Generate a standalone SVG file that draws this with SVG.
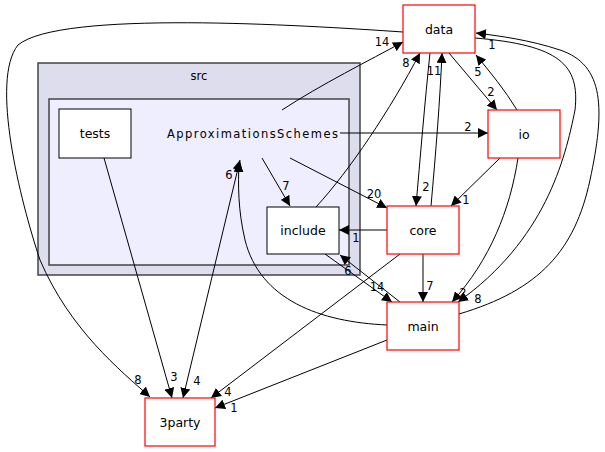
<svg xmlns="http://www.w3.org/2000/svg" width="605" height="452" viewBox="0 0 605 452">
<style>
text{font-family:"DejaVu Sans",sans-serif;font-size:11.5px;fill:#000}
.n text{text-anchor:middle;font-size:12.5px}
.red{fill:#fff;stroke:#ff0000;stroke-width:1.2}
.blk{fill:#fff;stroke:#000;stroke-width:1}
#edges path{fill:none;stroke:#000;stroke-width:1}
.lbl{text-anchor:middle}
</style>
<defs>
<marker id="a" viewBox="0 0 10 10" refX="10" refY="5" markerWidth="10" markerHeight="10" markerUnits="userSpaceOnUse" orient="auto"><path d="M0,0L10,5L0,10z" fill="#000"/></marker>
<marker id="s" viewBox="0 0 10 10" refX="0" refY="5" markerWidth="10" markerHeight="10" markerUnits="userSpaceOnUse" orient="auto"><path d="M10,0L0,5L10,10z" fill="#000"/></marker>
</defs>
<rect width="605" height="452" fill="#fff"/>
<g id="src"><rect x="38" y="63" width="322" height="212" fill="#ddddee" stroke="#444" stroke-width="1.5"/><text x="199" y="80" text-anchor="middle" font-size="12.5">src</text></g>
<g id="approx"><rect x="49" y="99" width="300" height="166" fill="#eeeeff" stroke="#444" stroke-width="1.5"/><text x="167" y="138" font-size="12.5" textLength="171" lengthAdjust="spacing">ApproximationsSchemes</text></g>
<g id="edges">
<path d="M282,110C320,85 370,60 403,42" marker-end="url(#a)"/>
<path d="M403,32C300,25 60,10 18,45C-10,80 20,200 40,260C70,330 120,370 150,397" marker-end="url(#a)"/>
<path d="M340,133L488,133" marker-end="url(#a)"/>
<path d="M262,158L290,206" marker-end="url(#a)"/>
<path d="M290,158L387,208" marker-end="url(#a)"/>
<path d="M316,207C350,170 390,110 420,53" marker-end="url(#a)"/>
<path d="M104,158L172,398" marker-end="url(#a)"/>
<path d="M240,160L183,398" marker-start="url(#s)" marker-end="url(#a)"/>
<path d="M430,53C425,100 420,160 416,206" marker-end="url(#a)"/>
<path d="M431,206C436,150 440,100 442,53" marker-end="url(#a)"/>
<path d="M449,53L497,110" marker-end="url(#a)"/>
<path d="M517,110C505,90 490,72 476,55" marker-end="url(#a)"/>
<path d="M500,158L451,206" marker-end="url(#a)"/>
<path d="M518,158C510,210 490,260 452,302" marker-end="url(#a)"/>
<path d="M387,230L339,230" marker-end="url(#a)"/>
<path d="M423,254L423,302" marker-end="url(#a)"/>
<path d="M400,254L211,398" marker-end="url(#a)"/>
<path d="M325,254L392,302" marker-end="url(#a)"/>
<path d="M400,302L340,255" marker-end="url(#a)"/>
<path d="M387,325C320,322 260,300 245,240C238,210 238,185 239,162" marker-end="url(#a)"/>
<path d="M475,38C560,45 580,65 575,110C565,160 545,240 458,302" marker-end="url(#a)"/>
<path d="M459,314C540,290 575,250 590,180C605,110 605,65 560,50C530,40 500,36 476,33" marker-end="url(#a)"/>
<path d="M387,340L215,408" marker-end="url(#a)"/>
<g class="lbl">
<text x="382" y="46">14</text><text x="138" y="384">8</text><text x="468" y="131">2</text>
<text x="286" y="190">7</text><text x="374" y="198">20</text><text x="406" y="67">8</text>
<text x="174" y="381">3</text><text x="229" y="179">6</text><text x="197" y="385">4</text>
<text x="426" y="191">2</text><text x="434" y="75">11</text><text x="491" y="96">2</text>
<text x="478" y="76">5</text><text x="466" y="204">1</text><text x="463" y="297">2</text>
<text x="356" y="242">1</text><text x="430" y="290">7</text><text x="228" y="396">4</text>
<text x="377" y="291">14</text><text x="348" y="275">6</text><text x="478" y="303">8</text>
<text x="492" y="49">1</text><text x="234" y="412">1</text>
</g>
</g>
<g id="tests" class="n"><rect class="blk" x="59" y="109" width="72" height="49"/><text x="95" y="138">tests</text></g>
<g id="include" class="n"><rect class="blk" x="267" y="207" width="72" height="47"/><text x="303" y="235">include</text></g>
<g id="data" class="n"><rect class="red" x="403" y="5" width="72" height="48"/><text x="439" y="34">data</text></g>
<g id="io" class="n"><rect class="red" x="488" y="110" width="72" height="48"/><text x="524" y="139">io</text></g>
<g id="core" class="n"><rect class="red" x="387" y="206" width="72" height="48"/><text x="423" y="235">core</text></g>
<g id="main" class="n"><rect class="red" x="387" y="302" width="72" height="48"/><text x="423" y="331">main</text></g>
<g id="party" class="n"><rect class="red" x="145" y="398" width="70" height="48"/><text x="180" y="427">3party</text></g>
</svg>
